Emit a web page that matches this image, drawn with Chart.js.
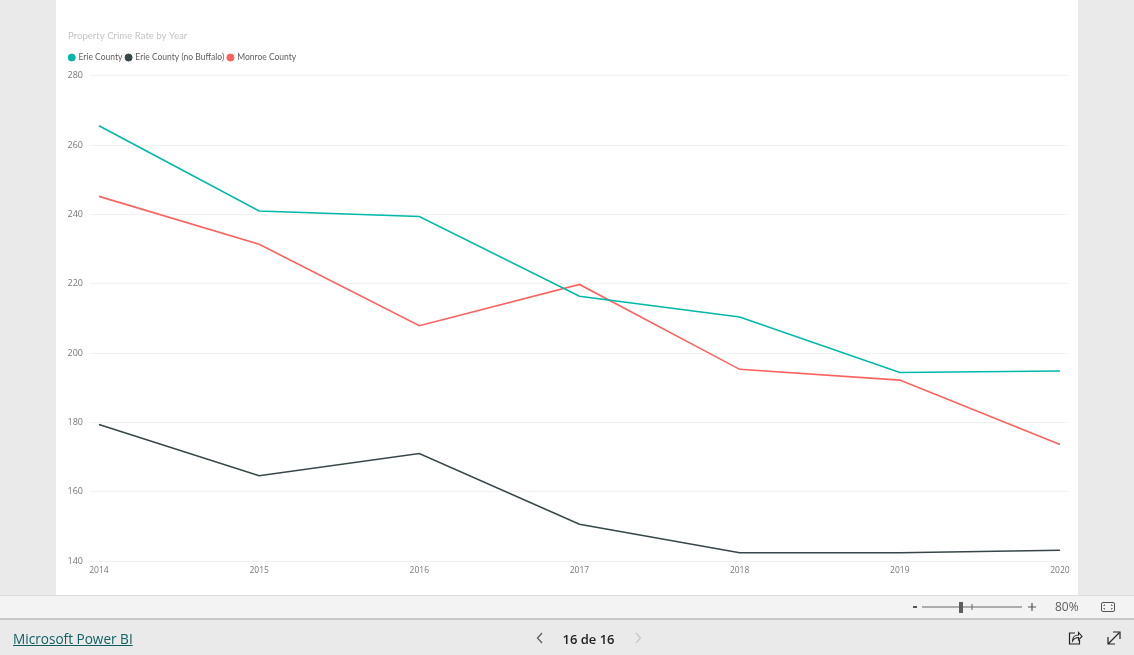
<!DOCTYPE html>
<html>
<head>
<meta charset="utf-8">
<script src="https://cdn.jsdelivr.net/npm/chart.js@4"></script>
<style>
  html, body { margin: 0; padding: 0; }
  body { width: 1134px; height: 655px; background: #eaeaea; overflow: hidden; position: relative; font-family: "Open Sans", sans-serif; }
  #panel { position: absolute; left: 56px; top: 0; width: 1022px; height: 595px; background: #fff; }
  #panel canvas { display: block; }
  #zoombar { position: absolute; left: 0; top: 595px; width: 1134px; height: 22px; background: #f3f3f3; border-top: 1px solid #dcdcdc; border-bottom: 2px solid #c8c8c8; }
  .abs { position: absolute; }
  #brand { left: 13px; top: 629px; font-size: 13.6px; color: #0f5f62; text-decoration: underline; white-space: nowrap; }
  #pager { left: 540px; top: 630px; width: 97px; text-align: center; font-size: 13px; color: #252423; font-weight: 600; white-space: nowrap; }
  #pct { left: 1055px; top: 598px; font-size: 12px; color: #605e5c; }
  svg.abs { overflow: visible; }
</style>
</head>
<body>
<div id="panel"><canvas id="chart" width="1022" height="595"></canvas></div>
<div id="zoombar"></div>

<svg class="abs" style="left:0;top:0" width="1134" height="655" fill="none">
  <path d="M913 607h4" stroke="#555" stroke-width="2"/>
  <path d="M922 607h100" stroke="#666"/>
  <path d="M972 604v6" stroke="#666"/>
  <rect x="959" y="602" width="4" height="11" fill="#605e5c"/>
  <path d="M1028 607h8M1032 603v8" stroke="#555" stroke-width="1.2"/>
  <rect x="1101.5" y="602.5" width="13" height="9" rx="1.5" stroke="#555"/>
  <path d="M1105 605h-1v1M1111 605h1v1M1105 609h-1v-1M1111 609h1v-1" stroke="#555"/>
  <path d="M542 633l-4.500 5 4.500 5" stroke="#605e5c" stroke-width="1.300"/>
  <path d="M636 633l4.500 5-4.500 5" stroke="#c8c8c8" stroke-width="1.300"/>
  <path d="M1075 633h-5.500v11h10v-4" stroke="#252423" stroke-width="1.200"/>
  <path d="M1072.500 641c0-4 3-6 6-6v-2.500l3.500 4-3.500 3.500v-2.500c-2.500 0-4.500 1-6 3.500z" stroke="#252423" stroke-width="1.100"/>
  <path d="M1108 644l11-11M1113 632h7v7M1108 637v7h7" stroke="#252423" stroke-width="1.200"/>
</svg>

<a id="brand" class="abs">Microsoft Power BI</a>
<div id="pager" class="abs">16 de 16</div>
<div id="pct" class="abs">80%</div>

<script>
const years = [2014, 2015, 2016, 2017, 2018, 2019, 2020]
const erieCounty = [265.6, 241.0, 239.4, 216.4, 210.4, 194.4, 194.8]
const erieNoBuffalo = [179.4, 164.6, 171.0, 150.6, 142.4, 142.4, 143.1]
const monroeCounty = [245.2, 231.4, 207.9, 219.8, 195.3, 192.2, 173.6]
const yTicks = [140, 160, 180, 200, 220, 240, 260, 280]

const toPoints = (values) => values.map((v, i) => ({ x: years[i], y: v }))
const uiFont = "Lato, sans-serif"
const tickFont = "'Open Sans', sans-serif"

const ctx = document.getElementById("chart").getContext("2d")

// legend sits a little left of the title and above its layout box
const nudgeLegend = {
  id: "nudgeLegend",
  afterLayout: (chart) => {
    chart.legend.left -= 2.5
    chart.legend.top -= 4
  },
}

new Chart(ctx, {
  type: "line",
  data: {
    datasets: [
      { label: "Erie County", data: toPoints(erieCounty), borderColor: "#01b8aa", backgroundColor: "#01b8aa" },
      { label: "Erie County (no Buffalo)", data: toPoints(erieNoBuffalo), borderColor: "#374649", backgroundColor: "#374649" },
      { label: "Monroe County", data: toPoints(monroeCounty), borderColor: "#fd625e", backgroundColor: "#fd625e" },
    ],
  },
  plugins: [nudgeLegend],
  options: {
    responsive: false,
    animation: false,
    layout: { padding: { top: 30, left: 12, right: 11, bottom: 0 } },
    elements: {
      line: { borderWidth: 1.6, tension: 0 },
      point: { radius: 0 },
    },
    plugins: {
      tooltip: { enabled: false },
      title: {
        display: true,
        text: "Property Crime Rate by Year",
        align: "start",
        color: "#c4c4c4",
        font: { family: uiFont, size: 9.6, weight: "normal" },
        padding: { top: 0, bottom: 12 },
      },
      legend: {
        display: true,
        align: "start",
        labels: {
          usePointStyle: true,
          pointStyle: "circle",
          boxWidth: 5,
          boxHeight: 5,
          padding: 3.75,
          color: "#605e5c",
          font: { family: uiFont, size: 8.5 },
        },
      },
    },
    scales: {
      x: {
        type: "linear",
        min: 2013.944,
        max: 2020.044,
        afterBuildTicks: (axis) => {
          axis.ticks = years.map((y) => ({ value: y }))
        },
        afterFit: (axis) => {
          axis.height = 34
        },
        grid: { display: false, drawTicks: false },
        border: { display: false },
        ticks: {
          callback: (v) => String(v),
          autoSkip: false,
          maxRotation: 0,
          padding: 4,
          color: "#777777",
          font: { family: tickFont, size: 8.5 },
        },
      },
      y: {
        min: 140,
        max: 280,
        afterBuildTicks: (axis) => {
          axis.ticks = yTicks.map((v) => ({ value: v }))
        },
        afterFit: (axis) => {
          axis.width = 22
        },
        grid: { color: "#f1f1f1", lineWidth: 1, drawTicks: false },
        border: { display: false },
        ticks: {
          padding: 7,
          color: "#777777",
          font: { family: tickFont, size: 9 },
        },
      },
    },
  },
})
</script>
</body>
</html>
